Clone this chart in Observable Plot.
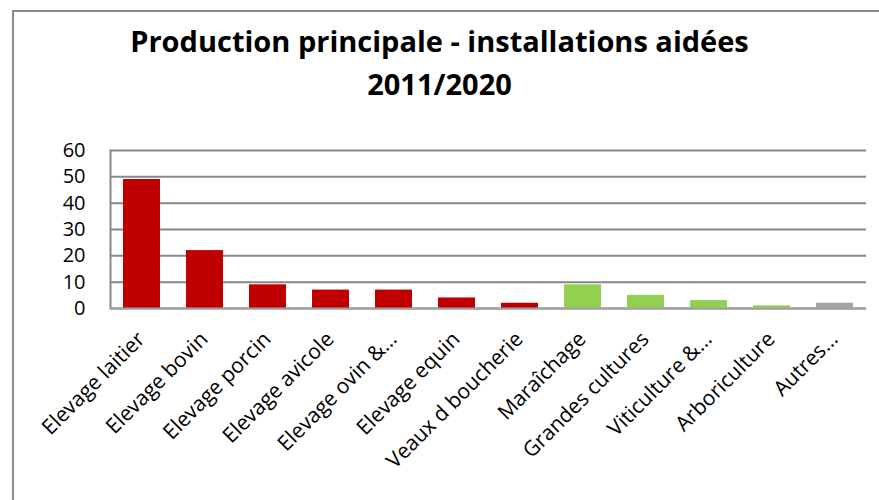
<!DOCTYPE html>
<html>
<head>
<meta charset="utf-8">
<script src="https://cdn.jsdelivr.net/npm/d3@7"></script>
<script src="https://cdn.jsdelivr.net/npm/@observablehq/plot@0.6"></script>
<style>
  html, body { margin: 0; padding: 0; background: #fff; }
  #wrap { position: relative; width: 879px; height: 500px; overflow: hidden; font-family: "Open Sans", sans-serif; }
  #frame { position: absolute; left: 12px; top: 10px; width: 900px; height: 520px; border: 2px solid #8c8c8c; box-sizing: border-box; }
  #title { position: absolute; left: 0; top: 19px; width: 879px; text-align: center; font-weight: bold; font-size: 29px; line-height: 43px; color: #000; }
  #chart { position: absolute; left: 0; top: 120px; }
</style>
</head>
<body>
<div id="wrap">
  <div id="frame"></div>
  <div id="title">Production principale - installations aidées<br>2011/2020</div>
  <div id="chart"></div>
</div>
<script>
const categories = ["Elevage laitier", "Elevage bovin", "Elevage porcin", "Elevage avicole", "Elevage ovin &…", "Elevage equin", "Veaux d boucherie", "Maraîchage", "Grandes cultures", "Viticulture &…", "Arboriculture", "Autres…"];
const values = [49, 22, 9, 7, 7, 4, 2, 9, 5, 3, 1, 2];
const groups = ["élevage", "élevage", "élevage", "élevage", "élevage", "élevage", "élevage", "végétal", "végétal", "végétal", "végétal", "autre"];
const yTicks = [0, 10, 20, 30, 40, 50, 60];

const data = categories.map((c, i) => ({cat: c, value: values[i], group: groups[i]}));

const chart = Plot.plot({
  width: 879,
  height: 380,
  marginTop: 30,
  marginBottom: 192,
  marginLeft: 110,
  marginRight: 13,
  style: {fontFamily: "Open Sans, sans-serif", background: "transparent", overflow: "visible"},
  x: {domain: categories, paddingInner: 0.41, paddingOuter: 0.205, axis: null},
  y: {domain: [0, 60], ticks: yTicks, axis: null},
  color: {domain: ["élevage", "végétal", "autre"], range: ["#c00000", "#92d050", "#a5a5a5"]},
  marks: [
    Plot.gridY(yTicks, {stroke: "#878787", strokeOpacity: 1, strokeWidth: 2}),
    Plot.frame({anchor: "left", stroke: "#878787", strokeWidth: 2}),
    Plot.barY(data, {x: "cat", y: "value", fill: "group"}),
    Plot.ruleY([0], {stroke: "#a0a0a0", strokeWidth: 2}),
    Plot.text(yTicks, {y: d => d, text: d => String(d), frameAnchor: "left", textAnchor: "end", dx: -25, fontSize: 20, fill: "#000"}),
    Plot.text(data, {x: "cat", text: "cat", frameAnchor: "bottom", rotate: -45, textAnchor: "end", dx: 4, dy: 32, fontSize: 21, fill: "#000"})
  ]
});
document.getElementById("chart").appendChild(chart);
</script>
</body>
</html>
